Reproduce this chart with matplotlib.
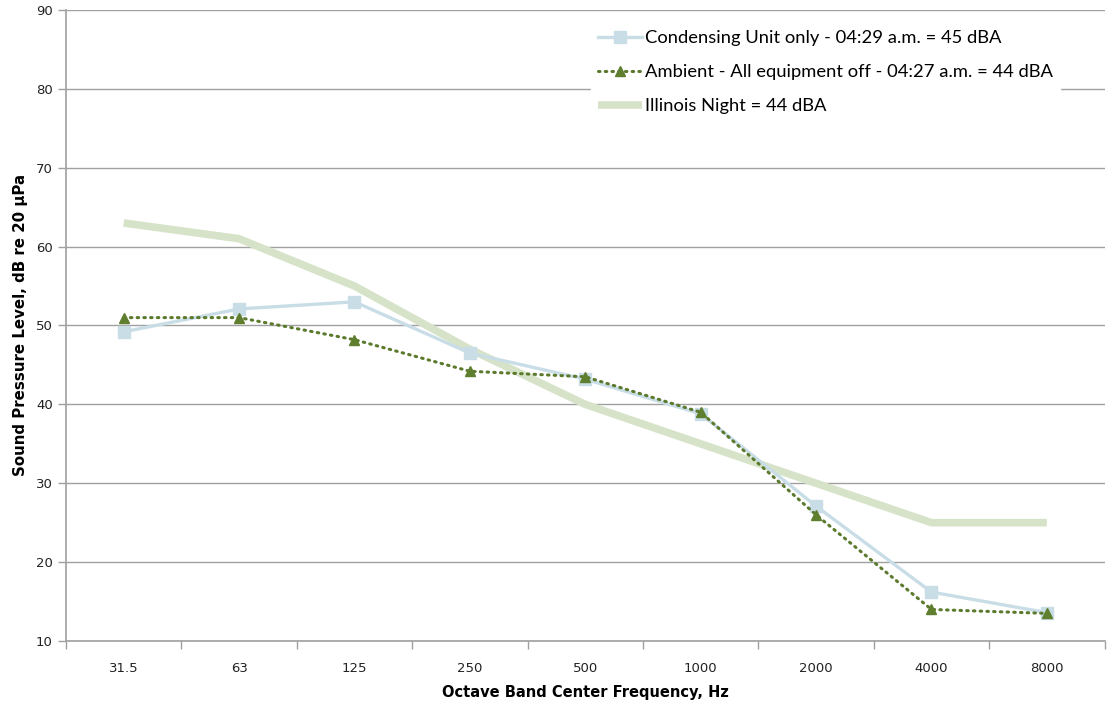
import numpy as np
import matplotlib.pyplot as plt
from matplotlib.ticker import FixedLocator

freqs = ['31.5', '63', '125', '250', '500', '1000', '2000', '4000', '8000']
condensing = [49.2, 52.1, 53.0, 46.5, 43.2, 38.8, 27.1, 16.2, 13.6]
ambient = [51.0, 51.0, 48.2, 44.2, 43.5, 39.0, 26.0, 14.0, 13.5]
illinois = [63.0, 61.0, 55.0, 47.0, 40.0, 35.0, 30.0, 25.0, 25.0]

lab_cond = 'Condensing Unit only - 04:29 a.m. = 45 dBA'
lab_amb = 'Ambient - All equipment off - 04:27 a.m. = 44 dBA'
lab_ill = 'Illinois Night = 44 dBA'

plt.rcParams['font.family'] = ['DejaVu Sans']

fig = plt.figure(figsize=(11.09, 7.04), dpi=100)
ax = fig.add_axes([0.0595, 0.0895, 0.9365, 0.8963])

x = np.arange(len(freqs))
ax.plot(x, condensing, color='#c9dde7', lw=2.4, marker='s', ms=8,
        mfc='#c9dde7', mec='#c9dde7', label=lab_cond, zorder=3)
ax.plot(x, ambient, color='#5b7a2c', lw=2.2, ls=(0, (0.5, 1.7)),
        dash_capstyle='round', marker='^', ms=7.5, mfc='#5f7f2f',
        mec='#5f7f2f', label=lab_amb, zorder=4)
ax.plot(x, illinois, color='#d7e3c9', lw=5.5, solid_capstyle='butt',
        label=lab_ill, zorder=2)

ax.set_xlim(-0.5, len(freqs) - 0.5)
ax.set_ylim(10, 90)
ax.set_yticks(np.arange(10, 91, 10))
ax.set_xticks(x)
ax.set_xticklabels(freqs)
ax.xaxis.set_minor_locator(FixedLocator(np.arange(-0.5, len(freqs), 1.0)))
ax.tick_params(axis='x', which='major', length=0, pad=15, labelsize=9.5,
               labelcolor='#222222')
ax.tick_params(axis='x', which='minor', length=6, color='#a0a0a0', width=1)
ax.tick_params(axis='y', length=6, color='#a0a0a0', width=1, labelsize=9.5,
               labelcolor='#222222')
ax.grid(axis='y', color='#a0a0a0', lw=1)
ax.set_axisbelow(True)
for s in ['top', 'right']:
    ax.spines[s].set_visible(False)
for s in ['left', 'bottom']:
    ax.spines[s].set_color('#a0a0a0')
    ax.spines[s].set_linewidth(1.2)

ax.set_ylabel('Sound Pressure Level, dB re 20 µPa', fontsize=10.8,
              fontweight='bold', labelpad=6)
ax.set_xlabel('Octave Band Center Frequency, Hz', fontsize=10.5,
              fontweight='bold', labelpad=7)

leg = ax.legend(loc='upper right', bbox_to_anchor=(0.961, 0.985),
                frameon=True, prop={'family': 'Lato', 'size': 13.2},
                handlelength=2.4, handletextpad=0.15,
                labelspacing=0.97, borderaxespad=0.2)
leg.get_frame().set_edgecolor('white')
leg.get_frame().set_facecolor('white')
leg.get_frame().set_alpha(1)

fig.savefig('out.png', dpi=100)
